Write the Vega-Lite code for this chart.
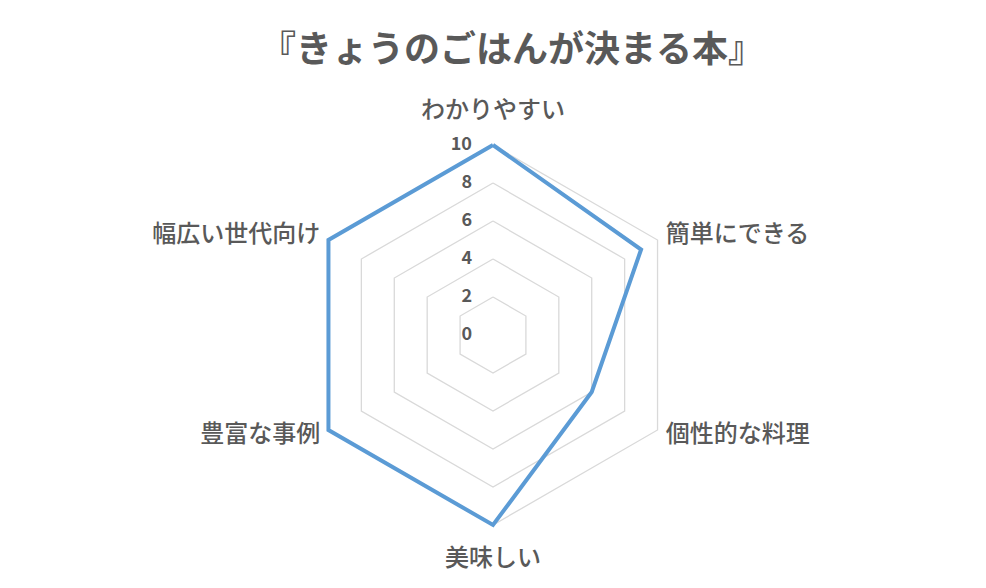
{
  "$schema": "https://vega.github.io/schema/vega-lite/v6.json",
  "width": 986,
  "height": 588,
  "autosize": {"type": "fit", "contains": "padding"},
  "padding": 0,
  "background": "white",
  "title": {
    "text": "『きょうのごはんが決まる本』",
    "font": "Noto Sans CJK JP",
    "fontSize": 36,
    "fontWeight": "bold",
    "color": "#595959",
    "anchor": "middle",
    "dx": 19,
    "offset": -70
  },
  "config": {"view": {"stroke": null}},
  "datasets": {
    "scores": [
      {"axis": "わかりやすい", "i": 0, "value": 10},
      {"axis": "簡単にできる", "i": 1, "value": 9},
      {"axis": "個性的な料理", "i": 2, "value": 6},
      {"axis": "美味しい", "i": 3, "value": 10},
      {"axis": "豊富な事例", "i": 4, "value": 10},
      {"axis": "幅広い世代向け", "i": 5, "value": 10},
      {"axis": "わかりやすい", "i": 6, "value": 10}
    ],
    "rings": [
      {"level": 2, "k": [0, 1, 2, 3, 4, 5, 6]},
      {"level": 4, "k": [0, 1, 2, 3, 4, 5, 6]},
      {"level": 6, "k": [0, 1, 2, 3, 4, 5, 6]},
      {"level": 8, "k": [0, 1, 2, 3, 4, 5, 6]},
      {"level": 10, "k": [0, 1, 2, 3, 4, 5, 6]}
    ],
    "ticks": [
      {"tick": 0}, {"tick": 2}, {"tick": 4}, {"tick": 6}, {"tick": 8}, {"tick": 10}
    ]
  },
  "layer": [
    {
      "data": {"name": "rings"},
      "transform": [
        {"flatten": ["k"]},
        {"calculate": "datum.level * sin(datum.k * PI / 3)", "as": "X"},
        {"calculate": "datum.level * cos(datum.k * PI / 3)", "as": "Y"}
      ],
      "mark": {"type": "line", "color": "#D9D9D9", "strokeWidth": 1.3},
      "encoding": {
        "x": {"field": "X", "type": "quantitative", "scale": {"domain": [-25.947, 25.947], "nice": false, "zero": false}, "axis": null},
        "y": {"field": "Y", "type": "quantitative", "scale": {"domain": [-13.316, 17.632], "nice": false, "zero": false}, "axis": null},
        "detail": {"field": "level", "type": "nominal"},
        "order": {"field": "k", "type": "quantitative"}
      }
    },
    {
      "data": {"name": "scores"},
      "transform": [
        {"calculate": "datum.value * sin(datum.i * PI / 3)", "as": "X"},
        {"calculate": "datum.value * cos(datum.i * PI / 3)", "as": "Y"}
      ],
      "mark": {"type": "line", "color": "#5B9BD5", "strokeWidth": 4, "strokeJoin": "miter"},
      "encoding": {
        "x": {"field": "X", "type": "quantitative"},
        "y": {"field": "Y", "type": "quantitative"},
        "order": {"field": "i", "type": "quantitative"}
      }
    },
    {
      "data": {"name": "ticks"},
      "transform": [
        {"calculate": "0", "as": "X"}
      ],
      "mark": {"type": "text", "align": "right", "baseline": "middle", "dx": -21, "font": "Noto Sans CJK JP", "fontSize": 18, "fontWeight": "bold", "color": "#595959"},
      "encoding": {
        "x": {"field": "X", "type": "quantitative"},
        "y": {"field": "tick", "type": "quantitative"},
        "text": {"field": "tick", "type": "quantitative"}
      }
    },
    {
      "data": {"name": "scores"},
      "transform": [
        {"filter": "datum.i < 6"},
        {"calculate": "datum.i == 0 || datum.i == 3 ? 11.8 : 10.5", "as": "r"},
        {"calculate": "datum.r * sin(datum.i * PI / 3)", "as": "X"},
        {"calculate": "datum.r * cos(datum.i * PI / 3)", "as": "Y"}
      ],
      "layer": [
        {
          "transform": [{"filter": "datum.i == 0 || datum.i == 3"}],
          "mark": {"type": "text", "align": "center", "baseline": "middle", "font": "Noto Sans CJK JP", "fontSize": 24, "fontWeight": 500, "color": "#595959"}
        },
        {
          "transform": [{"filter": "datum.i == 1 || datum.i == 2"}],
          "mark": {"type": "text", "align": "left", "baseline": "middle", "font": "Noto Sans CJK JP", "fontSize": 24, "fontWeight": 500, "color": "#595959"}
        },
        {
          "transform": [{"filter": "datum.i == 4 || datum.i == 5"}],
          "mark": {"type": "text", "align": "right", "baseline": "middle", "font": "Noto Sans CJK JP", "fontSize": 24, "fontWeight": 500, "color": "#595959"}
        }
      ],
      "encoding": {
        "x": {"field": "X", "type": "quantitative"},
        "y": {"field": "Y", "type": "quantitative"},
        "text": {"field": "axis", "type": "nominal"}
      }
    }
  ]
}
